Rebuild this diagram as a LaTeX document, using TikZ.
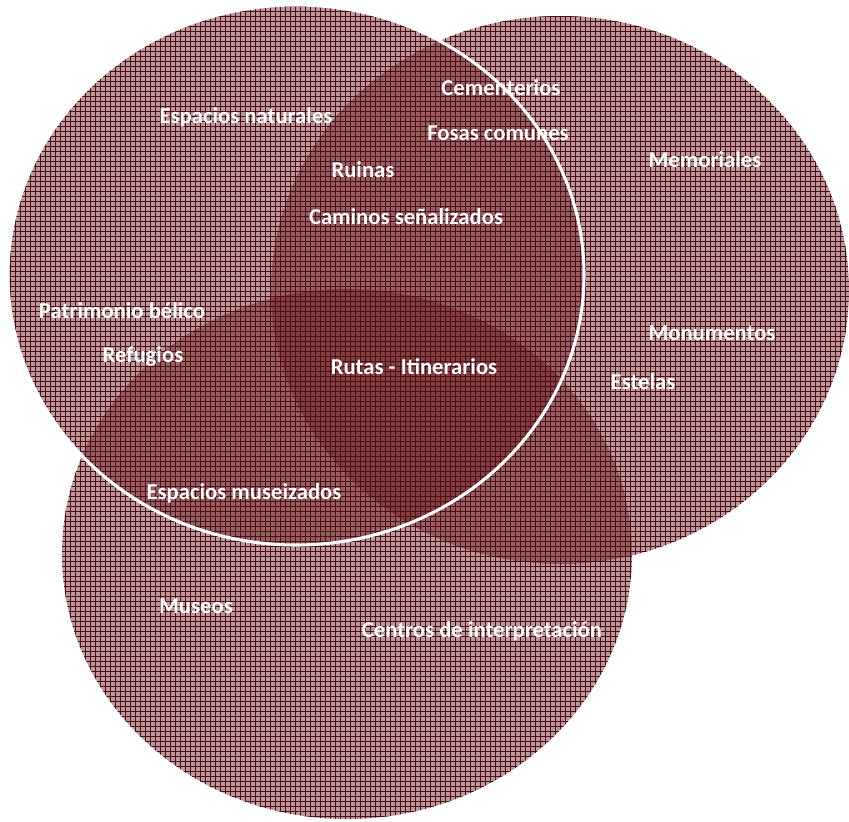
\documentclass[tikz,border=0pt]{standalone}
\usepackage{fontspec}
\setmainfont{Carlito}
\usepackage{tikz}
\usetikzlibrary{calc,positioning,patterns}
\definecolor{vino}{RGB}{107,26,31}
\definecolor{vinolinea}{RGB}{75,14,18}
\pgfdeclarepatternformonly{rejilla}{\pgfpoint{-0.5pt}{-0.5pt}}{\pgfpoint{4.25pt}{4.25pt}}{\pgfpoint{3.75pt}{3.75pt}}{
  \pgfsetlinewidth{0.55pt}
  \pgfpathmoveto{\pgfpoint{0pt}{0pt}}\pgfpathlineto{\pgfpoint{3.75pt}{0pt}}
  \pgfpathmoveto{\pgfpoint{0pt}{0pt}}\pgfpathlineto{\pgfpoint{0pt}{3.75pt}}
  \pgfusepath{stroke}}
\begin{document}
\begin{tikzpicture}[x=0.75pt,y=-0.75pt, zona/.style={fill=vino,fill opacity=0.45}, trama/.style={pattern=rejilla,pattern color=vinolinea}, etiq/.style={text=white,font=\fontsize{17}{20}\selectfont\bfseries,inner sep=1pt}]
                      \useasboundingbox (0,0) rectangle (849,821);
                      \coordinate (cA) at (296,275);
                      \coordinate (cB) at (560,290);
                      \coordinate (cC) at (347,554);

                      \fill[zona] (cB) ellipse [x radius=289, y radius=274];
                      \fill[zona] (cC) ellipse [x radius=285, y radius=265];
                      \fill[zona] (cA) ellipse [x radius=288, y radius=270];
                      \fill[trama] (cB) ellipse [x radius=289, y radius=274];
                      \fill[trama] (cC) ellipse [x radius=285, y radius=265];
                      \fill[trama] (cA) ellipse [x radius=288, y radius=270];

                      \node[etiq] (natur) at (246,117) {Espacios naturales};
                      \node[etiq] (cemen) at (501,88) {Cementerios};
                      \node[etiq] (fosas) at (498,133) {Fosas comunes};
                      \node[etiq] (ruin) at (363,170) {Ruinas};
                      \node[etiq] (camin) at (406,217) {Caminos señalizados};
                      \node[etiq] (memor) at (705,160) {Memoriales};
                      \node[etiq] (patri) at (122,311) {Patrimonio bélico};
                      \node[etiq] (refug) at (143,356) {Refugios};
                      \node[etiq] (rutas) at (414,367) {Rutas - Itinerarios};
                      \node[etiq] (monum) at (712,333) {Monumentos};
                      \node[etiq] (estel) at (643,382) {Estelas};
                      \node[etiq] (musei) at (244,493) {Espacios museizados};
                      \node[etiq] (museo) at (196,606) {Museos};
                      \node[etiq] (centr) at (482,631) {Centros de interpretación};

                      \draw[white,line width=2.3pt] (cA) ellipse [x radius=288, y radius=270];
                    \end{tikzpicture}
\end{document}
